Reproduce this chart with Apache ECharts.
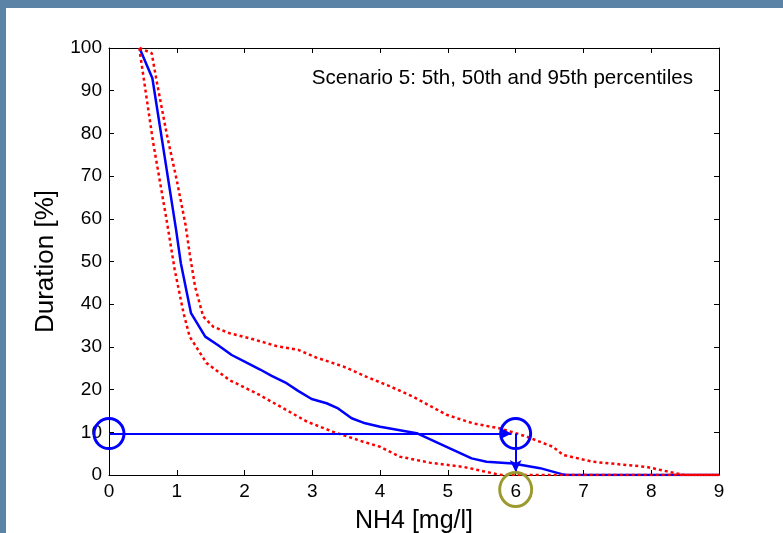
<!DOCTYPE html>
<html>
<head>
<meta charset="utf-8">
<script src="https://cdn.jsdelivr.net/npm/echarts@6/dist/echarts.min.js"></script>
<style>
  html, body { margin:0; padding:0; width:783px; height:533px; background:#5b83a5; overflow:hidden; }
  #panel { position:absolute; left:6px; top:8px; right:0; bottom:0; background:#ffffff; }
  #chart { position:absolute; left:0; top:0; width:783px; height:533px; }
</style>
</head>
<body>
<div id="panel"></div>
<div id="chart"></div>
<script>
// ---- data ----
const titleText = 'Scenario 5: 5th, 50th and 95th percentiles';
const xName = 'NH4 [mg/l]';
const yName = 'Duration [%]';

const medianX = [0.45, 0.64, 0.99, 1.06, 1.21, 1.42, 1.61, 1.81, 2.03, 2.23, 2.40, 2.62, 2.79, 2.99, 3.21, 3.38, 3.58, 3.78, 4.00, 4.54, 4.98, 5.35, 5.57, 5.96, 6.36, 6.68, 6.75, 9.00];
const medianY = [100, 92.9, 57.4, 49.6, 37.9, 32.4, 30.4, 28.1, 26.3, 24.7, 23.2, 21.5, 19.7, 17.8, 16.8, 15.6, 13.3, 12.1, 11.3, 9.8, 6.6, 3.9, 3.1, 2.7, 1.6, 0.2, 0, 0];

const p95X = [0.45, 0.63, 0.70, 0.85, 1.00, 1.13, 1.19, 1.27, 1.39, 1.54, 1.78, 2.08, 2.47, 2.79, 3.06, 3.46, 3.80, 4.14, 4.49, 4.98, 5.37, 5.77, 6.16, 6.55, 6.70, 7.14, 7.93, 8.42, 8.50, 9.00];
const p95Y = [100, 98.8, 92.5, 80, 69, 58.5, 51.9, 44.1, 37.1, 34.7, 33.2, 32.0, 30.2, 29.3, 27.5, 25.4, 23.0, 20.8, 18.3, 14.1, 12.1, 10.9, 9.0, 6.6, 4.7, 3.1, 1.9, 0.2, 0, 0];

const p5X = [0.45, 0.46, 0.65, 0.85, 0.97, 1.10, 1.19, 1.44, 1.78, 2.18, 2.62, 2.92, 3.31, 3.75, 4.00, 4.29, 4.73, 5.23, 5.72, 5.80, 9.00];
const p5Y = [100, 98.5, 78, 59.7, 48.0, 37.9, 32.4, 26.2, 22.2, 19.1, 15.2, 12.5, 10.1, 7.8, 6.6, 4.3, 2.9, 1.9, 0.2, 0, 0];

const xTicks = [0, 1, 2, 3, 4, 5, 6, 7, 8, 9];
const yTicks = [0, 10, 20, 30, 40, 50, 60, 70, 80, 90, 100];

// reading example: 10% duration -> NH4 value
const readX = 6;
const readY = 9.7;
const arrowTipX = 5.94;
const arrowTipY = 0.7;
const labelMarkY = -3.4;

const zip = (xs, ys) => xs.map((x, i) => [x, ys[i]]);

const chart = echarts.init(document.getElementById('chart'), null, { renderer: 'canvas' });
const FONT = 'Liberation Sans, Arial, sans-serif';

const axisCommon = {
  type: 'value',
  axisLine: { show: true, onZero: false, lineStyle: { color: '#000', width: 1 } },
  axisTick: { show: true, inside: true, length: 5, lineStyle: { color: '#000', width: 1 } },
  splitLine: { show: false }
};

chart.setOption({
  backgroundColor: 'transparent',
  animation: false,
  title: {
    text: titleText,
    right: 85, top: 63,
    textStyle: { fontFamily: FONT, fontSize: 20.6, fontWeight: 'normal', color: '#000' }
  },
  grid: { left: 109, right: 64, top: 48, bottom: 58, containLabel: false, outerBoundsMode: 'none' },
  xAxis: [
    Object.assign({}, axisCommon, {
      position: 'bottom', min: xTicks[0], max: xTicks[xTicks.length - 1], interval: 1,
      name: xName, nameLocation: 'middle', nameGap: 34,
      nameTextStyle: { fontFamily: FONT, fontSize: 25, color: '#000' },
      axisLabel: { margin: 7, fontFamily: FONT, fontSize: 19, color: '#000' }
    }),
    Object.assign({}, axisCommon, {
      position: 'top', min: xTicks[0], max: xTicks[xTicks.length - 1], interval: 1,
      axisLabel: { show: false }
    })
  ],
  yAxis: [
    Object.assign({}, axisCommon, {
      position: 'left', min: yTicks[0], max: yTicks[yTicks.length - 1], interval: 10,
      name: yName, nameLocation: 'middle', nameGap: 50,
      nameTextStyle: { fontFamily: FONT, fontSize: 26, color: '#000' },
      axisLabel: { margin: 7, fontFamily: FONT, fontSize: 19, color: '#000' }
    }),
    Object.assign({}, axisCommon, {
      position: 'right', min: yTicks[0], max: yTicks[yTicks.length - 1], interval: 10,
      axisLabel: { show: false }
    })
  ],
  series: [
    {
      name: '50th', type: 'line', data: zip(medianX, medianY), symbol: 'none',
      lineStyle: { color: '#0000ff', width: 2.5 }, z: 3
    },
    {
      name: '95th', type: 'line', data: zip(p95X, p95Y), symbol: 'none',
      lineStyle: { color: '#ff0000', width: 2.5, type: [3, 3] }, z: 4
    },
    {
      name: '5th', type: 'line', data: zip(p5X, p5Y), symbol: 'none',
      lineStyle: { color: '#ff0000', width: 2.5, type: [3, 3] }, z: 4
    },
    {
      name: 'arrows', type: 'line', data: [], symbol: 'none', z: 5,
      markLine: {
        silent: true, symbol: ['none', 'arrow'], symbolSize: [9, 12],
        label: { show: false },
        lineStyle: { color: '#0000ff', width: 2, type: 'solid', opacity: 1 },
        data: [
          [{ coord: [0, readY] }, { coord: [arrowTipX, readY] }],
          [{ coord: [readX, readY] }, { coord: [readX, arrowTipY] }]
        ]
      }
    },
    {
      name: 'circles', type: 'scatter', clip: false, z: 6,
      symbol: 'circle', symbolSize: 30,
      itemStyle: { color: 'transparent', borderColor: '#0000ff', borderWidth: 3, opacity: 1 },
      data: [[0, readY], [readX, readY]]
    },
    {
      name: 'labelMark', type: 'scatter', clip: false, z: 6,
      symbol: 'circle', symbolSize: [32, 34],
      itemStyle: { color: 'transparent', borderColor: '#9b9a2e', borderWidth: 3, opacity: 1 },
      data: [[readX, labelMarkY]]
    }
  ]
});
</script>
</body>
</html>
